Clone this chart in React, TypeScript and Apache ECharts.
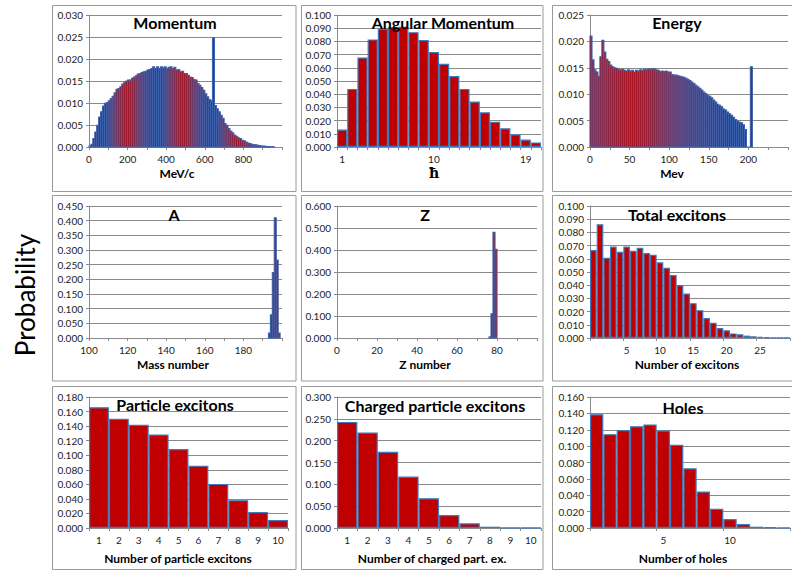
import React, { useEffect, useRef } from "react";
import * as echarts from "echarts";

// ---------- DATA ----------
const momentumBinStart = 0;
const momentumBinWidth = 10;
const momentumValues = [
  0.0002, 0.0006, 0.0019, 0.0034, 0.0049, 0.0068, 0.008, 0.0093, 0.0099, 0.0101,
  0.0105, 0.011, 0.0115, 0.0123, 0.0131, 0.0133, 0.0137, 0.0143, 0.0147, 0.015,
  0.0152, 0.0152, 0.0156, 0.0159, 0.0162, 0.0166, 0.0167, 0.0169, 0.0171, 0.0172,
  0.0175, 0.0176, 0.0178, 0.0182, 0.0178, 0.0182, 0.0178, 0.0182, 0.018, 0.0182,
  0.0178, 0.0181, 0.0182, 0.0178, 0.0181, 0.0175, 0.0176, 0.0171, 0.0172, 0.0167,
  0.0167, 0.0163, 0.0159, 0.0158, 0.0153, 0.0152, 0.0144, 0.014, 0.0135, 0.0129,
  0.0121, 0.0114, 0.0108, 0.0105, 0.0248, 0.0094, 0.0087, 0.008, 0.0072, 0.0065,
  0.0053, 0.0049, 0.0042, 0.0036, 0.0032, 0.0027, 0.0024, 0.0021, 0.0019, 0.0015,
  0.0014, 0.0011, 0.0009, 0.0008, 0.0006, 0.0005, 0.0005, 0.0004, 0.0003, 0.0002,
  0.0002, 0.00015, 0.0001, 0.0001, 0.00005, 0.00005,
];

const angularCategories = ["1", "2", "3", "4", "5", "6", "7", "8", "9", "10", "11", "12", "13", "14", "15", "16", "17", "18", "19", "20"];
const angularValues = [
  0.0132, 0.044, 0.0678, 0.0815, 0.0896, 0.091, 0.0911, 0.087, 0.081, 0.072,
  0.063, 0.0537, 0.044, 0.0344, 0.0263, 0.0192, 0.0142, 0.0096, 0.0056, 0.0035,
];

const energyBinStart = 0;
const energyBinWidth = 2.5;
const energyValues = [
  0.021, 0.0165, 0.0146, 0.0142, 0.0134, 0.0171, 0.0202, 0.018, 0.0166, 0.0162,
  0.0155, 0.0152, 0.015, 0.0149, 0.0147, 0.0146, 0.0147, 0.0145, 0.0144, 0.0146,
  0.0144, 0.0145, 0.0142, 0.0145, 0.0144, 0.0146, 0.0145, 0.0147, 0.0146, 0.0148,
  0.0147, 0.0148, 0.0148, 0.0146, 0.0145, 0.0143, 0.0144, 0.0143, 0.0144, 0.0142,
  0.0142, 0.0137, 0.0136, 0.0136, 0.0135, 0.0134, 0.0133, 0.0132, 0.013, 0.0128,
  0.0126, 0.0123, 0.012, 0.0117, 0.0114, 0.0111, 0.0108, 0.0104, 0.0101, 0.0098,
  0.0096, 0.0093, 0.0089, 0.0085, 0.0081, 0.0079, 0.0076, 0.0072, 0.007, 0.0066,
  0.0063, 0.006, 0.0056, 0.0052, 0.0049, 0.0047, 0.0046, 0.0042, 0.0033, 0,
  0, 0.0152,
];

const massBinStart = 193;
const massBinWidth = 1;
const massValues = [0.017, 0.079, 0.223, 0.41, 0.266, 0.017];

const zBinStart = 76;
const zBinWidth = 1;
const zValues = [0.005, 0.11, 0.48, 0.403];

const totalCategories = Array.from({ length: 30 }, (_, i) => String(i));
const totalValues = [
  0.0666, 0.0862, 0.0608, 0.0693, 0.0653, 0.0693, 0.0661, 0.0683, 0.0643, 0.0631,
  0.0573, 0.0533, 0.0477, 0.0402, 0.0337, 0.0264, 0.0211, 0.0151, 0.0116, 0.0075,
  0.0058, 0.0035, 0.0028, 0.0018, 0.0013, 0.0008, 0.0005, 0.0003, 0.0001, 0.0001,
];

const particleCategories = ["1", "2", "3", "4", "5", "6", "7", "8", "9", "10"];
const particleValues = [0.166, 0.15, 0.1418, 0.1285, 0.1085, 0.0857, 0.0606, 0.0383, 0.0219, 0.0109];

const chargedCategories = ["1", "2", "3", "4", "5", "6", "7", "8", "9", "10"];
const chargedValues = [0.243, 0.2187, 0.1746, 0.1177, 0.0683, 0.0296, 0.0106, 0.003, 0.0008, 0.0002];

const holesCategories = Array.from({ length: 15 }, (_, i) => String(i));
const holesValues = [
  0.139, 0.1146, 0.1195, 0.1243, 0.1264, 0.1191, 0.1017, 0.0729, 0.0446, 0.0235,
  0.0109, 0.0049, 0.0016, 0.0008, 0.0002,
];

const titles = [
  "Momentum", "Angular Momentum", "Energy",
  "A", "Z", "Total excitons",
  "Particle excitons", "Charged particle excitons", "Holes",
];
const axisNames = [
  "MeV/c", "ħ", "Mev",
  "Mass number", "Z number", "Number of excitons",
  "Number of particle excitons", "Number of charged part. ex.", "Number of holes",
];

// ---------- STYLE ----------
const FONT = "Lato, 'Open Sans', sans-serif";
const RED = "#C00000";
const BLUE = "#3a78c0";
const DENSE_STROKE = "#3d62ad";
const GRID = "#8a8a8a";
const BORDER = "#9a9a9a";

function hist(start: number, width: number, values: number[]) {
  return values.map((v, i) => [start + i * width, start + (i + 1) * width, v]);
}

const App: React.FC = () => {
  const ref = useRef<HTMLDivElement>(null);

  useEffect(() => {
    if (!ref.current) return;
    const chart = echarts.init(ref.current, undefined, { renderer: "svg" });

    // plot areas [left, top, width, height]
    const grids = [
      [89, 15, 193, 132],
      [337, 15, 204, 132],
      [590, 15, 198, 132],
      [89, 206, 193, 132],
      [337, 206, 200, 132],
      [590, 206, 200, 132],
      [89, 397, 199, 131],
      [337, 397, 204, 131],
      [590, 397, 200, 131],
    ];
    const panels = [
      [52.5, 5.5, 243.5, 186],
      [301.5, 5.5, 241.5, 186],
      [552.5, 5.5, 250, 186],
      [52.5, 195.5, 243.5, 185.5],
      [301.5, 195.5, 241.5, 185.5],
      [552.5, 195.5, 250, 185.5],
      [52.5, 386.5, 243.5, 183],
      [301.5, 386.5, 241.5, 183],
      [552.5, 386.5, 250, 183],
    ];
    const titlePos = [
      [175, 22], [443, 22], [677, 22],
      [174, 214], [425, 214], [677, 214],
      [175, 404], [435, 405], [683, 407],
    ];
    const namePos = [
      [177, 173], [434, 173], [672, 173],
      [173, 364], [425, 364], [687, 364],
      [178, 558], [432, 558], [683, 558],
    ];

    const lineStyle = { color: GRID, width: 1 };
    const labelStyle = { fontSize: 10, color: "#222", fontFamily: FONT };

    const yMax = [0.03, 0.1, 0.025, 0.45, 0.6, 0.1, 0.18, 0.3, 0.16];
    const yInt = [0.005, 0.01, 0.005, 0.05, 0.1, 0.01, 0.02, 0.05, 0.02];

    const yAxis = yMax.map((m, i) => ({
      type: "value",
      gridIndex: i,
      min: 0,
      max: m,
      interval: yInt[i],
      axisLine: { show: true, lineStyle },
      axisTick: { show: true, length: 3, lineStyle },
      splitLine: { show: true, lineStyle: { color: GRID, width: 1 } },
      axisLabel: { ...labelStyle, margin: 6, formatter: (v: number) => v.toFixed(3) },
    }));

    const valueX = (i: number, min: number, max: number, interval: number) => ({
      type: "value",
      gridIndex: i,
      min,
      max,
      interval,
      splitLine: { show: false },
      axisLine: { show: true, onZero: false, lineStyle },
      axisTick: { show: true, length: 3, lineStyle },
      minorTick: { show: true, splitNumber: 2, length: 3, lineStyle },
      axisLabel: { ...labelStyle, margin: 7, showMaxLabel: false },
    });
    const multipleOf5 = (idx: number) => idx > 0 && idx % 5 === 0;
    const catX = (i: number, data: string[], labelInterval: any, tickInterval: any) => ({
      type: "category",
      gridIndex: i,
      data,
      boundaryGap: true,
      axisLine: { show: true, onZero: false, lineStyle },
      axisTick: { show: true, length: 3, interval: tickInterval, lineStyle },
      axisLabel: { ...labelStyle, margin: 7, interval: labelInterval },
    });

    const xAxis = [
      valueX(0, 0, 1000, 200),
      catX(1, angularCategories, 8, 0),
      valueX(2, 0, 250, 50),
      valueX(3, 100, 200, 20),
      valueX(4, 0, 100, 20),
      catX(5, totalCategories, multipleOf5, 4),
      catX(6, particleCategories, 0, 0),
      catX(7, chargedCategories, 0, 0),
      catX(8, holesCategories, multipleOf5, 4),
    ];

    const histSeries = (i: number, data: number[][]) => ({
      type: "custom",
      xAxisIndex: i,
      yAxisIndex: i,
      encode: { x: [0, 1], y: 2 },
      data,
      renderItem: (_p: any, api: any) => {
        const a = api.coord([api.value(0), api.value(2)]);
        const b = api.coord([api.value(1), 0]);
        return {
          type: "rect",
          shape: { x: a[0], y: a[1], width: b[0] - a[0], height: b[1] - a[1] },
          style: { fill: RED, stroke: DENSE_STROKE, lineWidth: 1.15 },
        };
      },
    });
    const barSeries = (i: number, data: number[]) => ({
      type: "bar",
      xAxisIndex: i,
      yAxisIndex: i,
      barCategoryGap: "0%",
      data,
      itemStyle: { color: RED, borderColor: BLUE, borderWidth: 1.2 },
    });

    const series = [
      histSeries(0, hist(momentumBinStart, momentumBinWidth, momentumValues)),
      barSeries(1, angularValues),
      histSeries(2, hist(energyBinStart, energyBinWidth, energyValues)),
      histSeries(3, hist(massBinStart, massBinWidth, massValues)),
      histSeries(4, hist(zBinStart, zBinWidth, zValues)),
      barSeries(5, totalValues),
      barSeries(6, particleValues),
      barSeries(7, chargedValues),
      barSeries(8, holesValues),
    ];

    const graphic: any[] = [];
    panels.forEach((p) => {
      graphic.push({
        type: "rect",
        shape: { x: p[0], y: p[1], width: p[2], height: p[3] },
        style: { fill: "none", stroke: BORDER, lineWidth: 1 },
        silent: true,
      });
    });
    titles.forEach((t, i) => {
      graphic.push({
        type: "text",
        x: titlePos[i][0],
        y: titlePos[i][1],
        z: 10,
        style: {
          text: t,
          fill: "#000",
          font: `bold 16px ${FONT}`,
          align: "center",
          verticalAlign: "middle",
        },
      });
    });
    axisNames.forEach((t, i) => {
      graphic.push({
        type: "text",
        x: namePos[i][0],
        y: namePos[i][1],
        z: 10,
        style: {
          text: t,
          fill: "#000",
          font: i === 1 ? `bold 14px 'DejaVu Serif', serif` : `bold 12px ${FONT}`,
          align: "center",
          verticalAlign: "middle",
        },
      });
    });
    graphic.push({
      type: "text",
      x: 25,
      y: 295,
      rotation: Math.PI / 2,
      style: {
        text: "Probability",
        fill: "#000",
        font: `26px ${FONT}`,
        align: "center",
        verticalAlign: "middle",
      },
    });

    chart.setOption({
      animation: false,
      backgroundColor: "#fff",
      grid: grids.map((g) => ({ left: g[0], top: g[1], width: g[2], height: g[3], containLabel: false })),
      xAxis,
      yAxis,
      series,
      graphic,
    });

    return () => chart.dispose();
  }, []);

  return (
    <div
      ref={ref}
      style={{ position: "fixed", left: 0, top: 0, width: 792, height: 571, background: "#fff" }}
    />
  );
};

export default App;
